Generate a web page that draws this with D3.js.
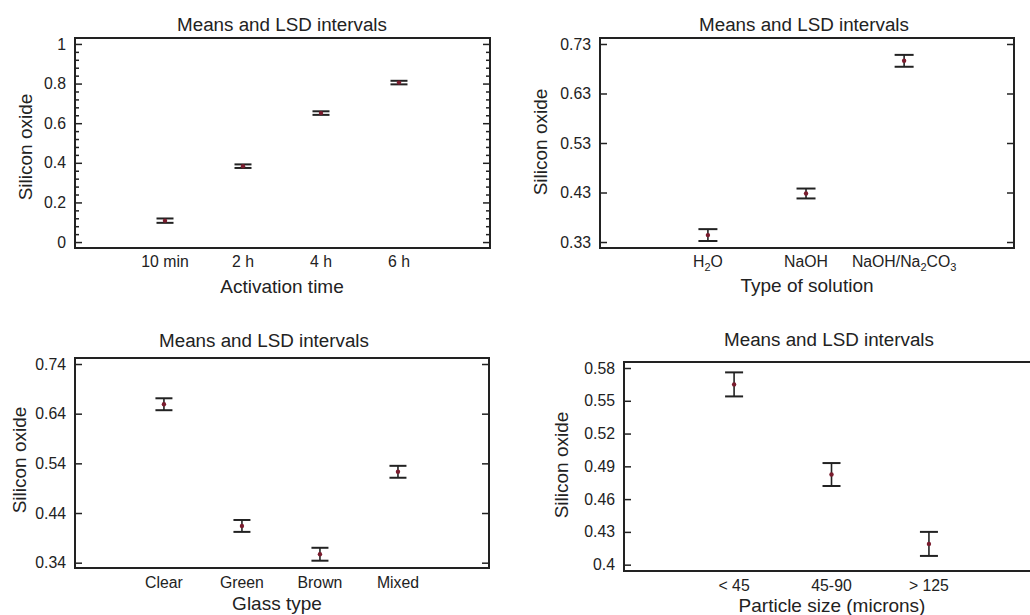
<!DOCTYPE html>
<html>
<head>
<meta charset="utf-8">
<script src="https://cdn.jsdelivr.net/npm/d3@7"></script>
<style>
  html, body { margin: 0; padding: 0; background: #fff; }
  svg { display: block; font-family: "Liberation Sans", Arial, sans-serif; }
</style>
</head>
<body>
<svg id="chart" width="1030" height="615"></svg>
<script>
// ---------- DATA ----------
const chartTitle = "Means and LSD intervals";
const yTitle = "Silicon oxide";

const activationCats = ["10 min", "2 h", "4 h", "6 h"];
const activationMeans = [0.108, 0.383, 0.651, 0.805];
const activationLSD = [0.011, 0.009, 0.009, 0.009];
const activationTicks = [0, 0.2, 0.4, 0.6, 0.8, 1];
const activationMinorStep = 0.04;

const solutionCats = ["H2O", "NaOH", "NaOH/Na2CO3"];
const solutionMeans = [0.344, 0.428, 0.696];
const solutionLSD = [0.012, 0.010, 0.012];
const solutionTicks = [0.33, 0.43, 0.53, 0.63, 0.73];

const glassCats = ["Clear", "Green", "Brown", "Mixed"];
const glassMeans = [0.659, 0.414, 0.357, 0.523];
const glassLSD = [0.012, 0.012, 0.013, 0.012];
const glassTicks = [0.34, 0.44, 0.54, 0.64, 0.74];

const particleCats = ["< 45", "45-90", "> 125"];
const particleMeans = [0.565, 0.4825, 0.419];
const particleLSD = [0.011, 0.0105, 0.011];
const particleTicks = [0.4, 0.43, 0.46, 0.49, 0.52, 0.55, 0.58];

// ---------- LAYOUT ----------
const panels = [
  { cats: activationCats, means: activationMeans, lsd: activationLSD, ticks: activationTicks, minor: activationMinorStep,
    xTitle: "Activation time", box: [75, 490, 38, 248], yDom: [-0.03, 1.03], xDom: [-1.154, 4.167], cap: 17,
    titleX: 282, titleY: 31, tickY: 267, xTitleX: 282, xTitleY: 293, yTitleX: 32, yTitleY: 147 },
  { cats: solutionCats, means: solutionMeans, lsd: solutionLSD, ticks: solutionTicks, chem: true,
    xTitle: "Type of solution", box: [600, 1014, 38, 248], yDom: [0.3179, 0.7421], xDom: [-1.10, 3.12], cap: 19,
    titleX: 804, titleY: 31, tickY: 267, xTitleX: 807, xTitleY: 292, yTitleX: 547, yTitleY: 142 },
  { cats: glassCats, means: glassMeans, lsd: glassLSD, ticks: glassTicks,
    xTitle: "Glass type", box: [75, 489, 358, 568], yDom: [0.3293, 0.7521], xDom: [-1.14, 4.167], cap: 17,
    titleX: 264, titleY: 347, tickY: 588, xTitleX: 277, xTitleY: 610, yTitleX: 26, yTitleY: 460 },
  { cats: particleCats, means: particleMeans, lsd: particleLSD, ticks: particleTicks,
    xTitle: "Particle size (microns)", box: [624, 1040, 362, 571], yDom: [0.3942, 0.5855], xDom: [-1.13, 3.14], cap: 18,
    titleX: 829, titleY: 346, tickY: 591, xTitleX: 832, xTitleY: 612, yTitleX: 568, yTitleY: 465 }
];

const ink = "#222";
const svg = d3.select("#chart");

function chemLabel(sel, label) {
  const parts = label.split(/(\d+)/).filter(s => s.length);
  let cur = 0;
  parts.forEach(p => {
    const isSub = /^\d+$/.test(p);
    const target = isSub ? 4 : 0;
    const ts = sel.append("tspan").attr("dy", target - cur).text(p);
    if (isSub) ts.attr("font-size", "11px");
    cur = target;
  });
}

panels.forEach(p => {
  const [x0, x1, y0, y1] = p.box;
  const x = d3.scaleLinear().domain(p.xDom).range([x0, x1]);
  const y = d3.scaleLinear().domain(p.yDom).range([y1, y0]);
  const g = svg.append("g");

  // title
  g.append("text").attr("x", p.titleX).attr("y", p.titleY).attr("text-anchor", "middle")
    .attr("font-size", "18.8px").attr("fill", ink).text(chartTitle);

  // minor ticks
  if (p.minor) {
    const minors = d3.range(p.ticks[0], p.ticks[p.ticks.length - 1] + 1e-9, p.minor)
      .filter(v => !p.ticks.some(t => Math.abs(t - v) < 1e-6));
    g.append("g").attr("transform", `translate(${x0},0)`)
      .call(d3.axisLeft(y).tickValues(minors).tickSize(-4).tickFormat(""))
      .call(a => a.select(".domain").remove())
      .call(a => a.selectAll("line").attr("stroke", ink).attr("stroke-width", 1.5));
    g.append("g").attr("transform", `translate(${x1},0)`)
      .call(d3.axisRight(y).tickValues(minors).tickSize(-4).tickFormat(""))
      .call(a => a.select(".domain").remove())
      .call(a => a.selectAll("line").attr("stroke", ink).attr("stroke-width", 1.5));
  }

  // major y ticks left with labels
  g.append("g").attr("transform", `translate(${x0},0)`)
    .call(d3.axisLeft(y).tickValues(p.ticks).tickSize(-7).tickPadding(9).tickFormat(d => String(+d.toFixed(2))))
    .call(a => a.select(".domain").remove())
    .call(a => a.selectAll("line").attr("stroke", ink).attr("stroke-width", 1.5))
    .call(a => a.selectAll("text").attr("fill", ink).attr("font-size", "15.8px")
      .attr("font-family", "Liberation Sans, Arial, sans-serif"));
  // right ticks
  g.append("g").attr("transform", `translate(${x1},0)`)
    .call(d3.axisRight(y).tickValues(p.ticks).tickSize(-7).tickFormat(""))
    .call(a => a.select(".domain").remove())
    .call(a => a.selectAll("line").attr("stroke", ink).attr("stroke-width", 1.5));

  // frame
  g.append("rect").attr("x", x0).attr("y", y0).attr("width", x1 - x0).attr("height", y1 - y0)
    .attr("fill", "none").attr("stroke", ink).attr("stroke-width", 2);

  // x category labels
  p.cats.forEach((c, i) => {
    const t = g.append("text").attr("x", x(i)).attr("y", p.tickY).attr("text-anchor", "middle")
      .attr("font-size", "15.8px").attr("fill", ink);
    if (p.chem) chemLabel(t, c); else t.text(c);
  });

  // axis titles
  g.append("text").attr("x", p.xTitleX).attr("y", p.xTitleY).attr("text-anchor", "middle")
    .attr("font-size", "19px").attr("fill", ink).text(p.xTitle);
  g.append("text").attr("transform", `translate(${p.yTitleX},${p.yTitleY}) rotate(-90)`)
    .attr("text-anchor", "middle").attr("font-size", "19px").attr("fill", ink).text(yTitle);

  // LSD intervals
  const data = p.cats.map((c, i) => ({ i, m: p.means[i], h: p.lsd[i] }));
  const bars = g.append("g");
  bars.selectAll("line.v").data(data).join("line")
    .attr("x1", d => x(d.i)).attr("x2", d => x(d.i))
    .attr("y1", d => y(d.m + d.h)).attr("y2", d => y(d.m - d.h))
    .attr("stroke", ink).attr("stroke-width", 1.6);
  bars.selectAll("line.t").data(data).join("line")
    .attr("x1", d => x(d.i) - p.cap / 2).attr("x2", d => x(d.i) + p.cap / 2)
    .attr("y1", d => y(d.m + d.h)).attr("y2", d => y(d.m + d.h))
    .attr("stroke", ink).attr("stroke-width", 2);
  bars.selectAll("line.b").data(data).join("line")
    .attr("x1", d => x(d.i) - p.cap / 2).attr("x2", d => x(d.i) + p.cap / 2)
    .attr("y1", d => y(d.m - d.h)).attr("y2", d => y(d.m - d.h))
    .attr("stroke", ink).attr("stroke-width", 2);
  bars.selectAll("circle").data(data).join("circle")
    .attr("cx", d => x(d.i)).attr("cy", d => y(d.m)).attr("r", 2.2)
    .attr("fill", "#7a1c2e");
});
</script>
</body>
</html>
